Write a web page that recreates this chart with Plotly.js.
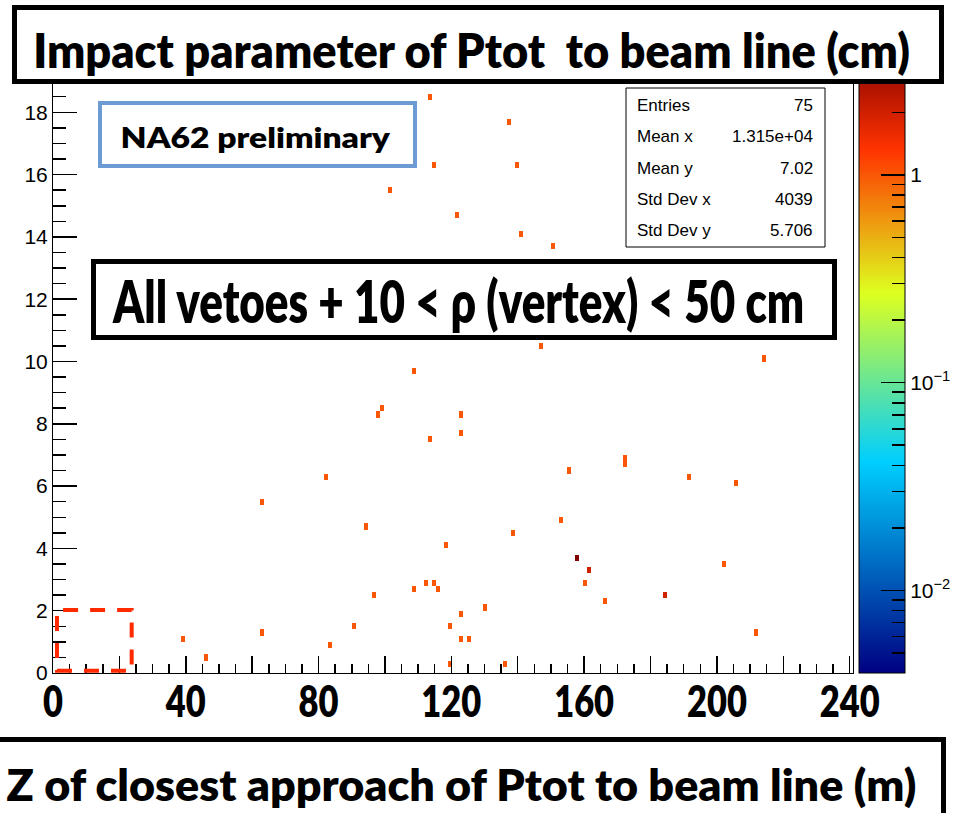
<!DOCTYPE html>
<html>
<head>
<meta charset="utf-8">
<script src="https://cdn.plot.ly/plotly-3.0.1.min.js"></script>
<style>
  html, body { margin: 0; padding: 0; background: #ffffff; }
  #plot { width: 955px; height: 813px; }
</style>
</head>
<body>
<div id="plot"></div>
<script>
// Z of closest approach (m) and impact parameter (cm) of each filled bin, with its bin content
const zPos = [113.0, 137.2, 114.3, 139.5, 101.1, 121.3, 140.5, 150.4, 146.7, 108.2,
              214.2, 98.6, 97.4, 122.5, 122.5, 113.0, 81.8, 155.3, 93.7, 152.8,
              138.4, 117.9, 157.6, 161.0, 159.8, 111.8, 114.3, 108.2, 115.5, 96.2,
              165.9, 129.8, 122.5, 90.1, 119.2, 122.5, 125.0, 82.8, 119.1, 135.9,
              62.6, 62.6, 39.5, 45.7, 172.0, 172.0, 191.4, 205.7, 202.0, 184.0,
              211.8];
const rhoPos = [18.5, 17.7, 16.3, 16.3, 15.5, 14.7, 14.1, 13.7, 10.5, 9.7,
                10.1, 8.5, 8.3, 8.3, 7.7, 7.5, 6.3, 6.5, 4.7, 4.9,
                4.5, 4.1, 3.7, 3.3, 2.9, 2.9, 2.9, 2.7, 2.7, 2.5,
                2.3, 2.1, 1.9, 1.5, 1.5, 1.1, 1.1, 0.9, 0.3, 0.3,
                5.5, 1.3, 1.1, 0.5, 6.7, 6.9, 6.3, 6.1, 3.5, 2.5,
                1.3];
const nEvents = [1, 1, 1, 1, 1, 1, 1, 1, 1, 1,
                 1, 1, 1, 1, 1, 1, 1, 1, 1, 1,
                 1, 1, 4, 2, 1, 1, 1, 1, 1, 1,
                 1, 1, 1, 1, 1, 1, 1, 1, 1, 1,
                 1, 1, 1, 1, 1, 1, 1, 1, 1, 2,
                 1];

// Statistics box
const statNames = ['Entries', 'Mean x', 'Mean y', 'Std Dev x', 'Std Dev y'];
const statValues = ['75', '1.315e+04', '7.02', '4039', '5.706'];

// Axis ticks
const xMajorTicks = [0, 20, 40, 60, 80, 100, 120, 140, 160, 180, 200, 220, 240];
const xTickText = ['0', '', '40', '', '80', '', '120', '', '160', '', '200', '', '240'];
const zTickVals = [0.005, 0.006, 0.007, 0.008, 0.009, 0.01, 0.02, 0.03, 0.04, 0.05, 0.06, 0.07, 0.08, 0.09,
                   0.1, 0.2, 0.3, 0.4, 0.5, 0.6, 0.7, 0.8, 0.9, 1, 2, 3, 4];
const zMajor = [0.01, 0.1, 1];
const zMajorText = ['10<sup>\u22122</sup>', '10<sup>\u22121</sup>', '1'];

// Histogram binning and colour range (log z)
const xBin = 1.2, nX = 200;
const yBin = 0.2, nY = 100;
const zMax = 4, zMin = 0.004;

const xCenters = Array.from({length: nX}, (_, i) => (i + 0.5) * xBin);
const yCenters = Array.from({length: nY}, (_, j) => (j + 0.5) * yBin);
const counts = Array.from({length: nY}, () => new Array(nX).fill(0));
zPos.forEach((zv, k) => {
  const i = Math.floor(zv / xBin);
  const j = Math.floor(rhoPos[k] / yBin);
  counts[j][i] += nEvents[k];
});
const logZ = counts.map(row => row.map(c => (c > 0 ? Math.log10(c) : null)));

// Rainbow palette
const lo = Math.log10(zMin), hi = Math.log10(zMax);
const palette = [
  [0.00, 'rgb(0,0,130)'],
  [0.34, 'rgb(0,207,255)'],
  [0.61, 'rgb(222,255,31)'],
  [0.84, 'rgb(255,51,0)'],
  [1.00, 'rgb(130,0,0)']
];

// Geometry helpers (pixel -> paper)
const W = 955, H = 813;
const mL = 53, mR = 102, mT = 50, mB = 140;
const pw = W - mL - mR, ph = H - mT - mB;
const px = x => (x - mL) / pw;
const py = y => (H - mB - y) / ph;

const slide = 'Lato, "Open Sans", sans-serif';
const heavy = 800;
const helv = '"Liberation Sans", Arial, Helvetica, sans-serif';

const heat = {
  type: 'heatmap',
  x: xCenters,
  y: yCenters,
  z: logZ,
  zmin: lo,
  zmax: hi,
  colorscale: palette,
  hoverongaps: false,
  colorbar: {
    x: 1.0075, xanchor: 'left', xpad: 0,
    y: 0.5, yanchor: 'middle', ypad: 0,
    len: 1, lenmode: 'fraction',
    thickness: 46,
    outlinecolor: '#000000', outlinewidth: 1,
    ticks: 'inside', ticklen: 13, tickwidth: 1.5, tickcolor: '#000000',
    tickmode: 'array',
    tickvals: zTickVals.map(Math.log10),
    ticktext: zTickVals.map(v => {
      const m = zMajor.indexOf(v);
      return m >= 0 ? zMajorText[m] : '';
    }),
    tickfont: {family: helv, size: 21, color: '#000000'}
  }
};

// Longer ticks at the decades of the colour scale
const decadeTicks = {
  type: 'scatter', mode: 'markers',
  x: [-50], y: [-50],
  hoverinfo: 'skip', showlegend: false,
  marker: {
    color: [0], cmin: lo, cmax: hi, opacity: 0,
    colorscale: [[0, 'rgba(0,0,0,0)'], [1, 'rgba(0,0,0,0)']],
    showscale: true,
    colorbar: {
      x: 1.0075, xanchor: 'left', xpad: 0,
      y: 0.5, yanchor: 'middle', ypad: 0,
      len: 1, lenmode: 'fraction',
      thickness: 46, outlinewidth: 0,
      ticks: 'inside', ticklen: 24, tickwidth: 1.5, tickcolor: '#000000',
      tickmode: 'array', tickvals: zMajor.map(Math.log10),
      showticklabels: false
    }
  }
};

// text boxes; fitW = width the bold slide text is condensed to
const fitW = [];
const annotations = [];
function boxAnn(x0, y0, x1, y1, bw, color) {
  annotations.push({
    xref: 'paper', yref: 'paper',
    x: px((x0 + x1) / 2), y: py((y0 + y1) / 2),
    xanchor: 'center', yanchor: 'middle',
    text: ' ', showarrow: false,
    width: (x1 - x0) - 2 * bw, height: (y1 - y0) - 2 * bw,
    borderpad: 0, borderwidth: bw, bordercolor: color, bgcolor: '#ffffff'
  });
  fitW.push(0);
}
function textAnn(text, cx, cy, size, fam, weight, anchor, w) {
  annotations.push({
    xref: 'paper', yref: 'paper',
    x: px(cx), y: py(cy),
    xanchor: anchor || 'center', yanchor: 'middle',
    text: text, showarrow: false,
    font: {family: fam, size: size, color: '#000000', weight: weight || 'normal'}
  });
  fitW.push(w || 0);
}

boxAnn(12, 5, 944, 84, 5, '#000000');
textAnn('Impact parameter of Ptot&nbsp; to beam line (cm)', 471, 50, 47, slide, heavy, 'center', 877);
boxAnn(98, 101, 417, 168, 4, '#6b9bd2');
textAnn('NA62 preliminary', 255, 137, 29, slide, heavy, 'center', 270);
boxAnn(91, 259, 837, 340, 5, '#000000');
textAnn('All vetoes + 10 &lt; \u03c1 (vertex) &lt; 50 cm', 459, 300, 58, slide, heavy, 'center', 692);
boxAnn(-10, 737, 946, 830, 5, '#000000');
textAnn('Z of closest approach of Ptot to beam line (m)', 461, 784, 44, slide, heavy, 'center', 910);
const rowY = [105, 137, 168, 199, 231];
statNames.forEach((s, k) => {
  textAnn(s, 635, rowY[k], 17, helv, 'normal', 'left');
  textAnn(statValues[k], 815, rowY[k], 17, helv, 'normal', 'right');
});

const shapes = [
  // statistics panel
  {type: 'rect', xref: 'paper', yref: 'paper', layer: 'above',
   x0: px(626), x1: px(825), y0: py(247), y1: py(88),
   fillcolor: '#ffffff', line: {color: '#000000', width: 1}},
  // signal region outline
  {type: 'rect', xref: 'x', yref: 'y', layer: 'above',
   x0: 1.2, x1: 23.7, y0: 0.07, y1: 2.02,
   line: {color: '#ff2a00', width: 4, dash: '15px,12px'}}
];

const layout = {
  width: W, height: H,
  margin: {l: mL, r: mR, t: mT, b: mB, pad: 0, autoexpand: false},
  paper_bgcolor: '#ffffff', plot_bgcolor: '#ffffff',
  showlegend: false,
  xaxis: {
    range: [0, 241], showgrid: false, zeroline: false,
    showline: true, linecolor: '#000000', linewidth: 1, mirror: true,
    ticks: 'inside', ticklen: 17, tickwidth: 1.5, tickcolor: '#000000',
    tickmode: 'array', tickvals: xMajorTicks, ticktext: xTickText,
    minor: {tickmode: 'linear', tick0: 0, dtick: 5, ticks: 'inside', ticklen: 9, tickwidth: 1.5, tickcolor: '#000000'},
    tickfont: {family: slide, size: 44, color: '#000000', weight: heavy}
  },
  yaxis: {
    range: [0, 20], showgrid: false, zeroline: false,
    showline: true, linecolor: '#000000', linewidth: 1, mirror: true,
    ticks: 'inside', ticklen: 24, tickwidth: 1.5, tickcolor: '#000000',
    tickmode: 'linear', tick0: 0, dtick: 2,
    minor: {tickmode: 'linear', tick0: 0, dtick: 0.5, ticks: 'inside', ticklen: 13, tickwidth: 1.5, tickcolor: '#000000'},
    tickfont: {family: helv, size: 21, color: '#000000'}
  },
  shapes: shapes,
  annotations: annotations
};

// Condense a text element horizontally about its own centre (optionally nudged up)
function condense(el, sx, dy) {
  const b = el.getBBox();
  const cx = b.x + b.width / 2;
  const old = el.getAttribute('transform') || '';
  el.setAttribute('transform', old + ' translate(' + cx + ',' + (dy || 0) + ') scale(' + sx + ',1) translate(' + (-cx) + ',0)');
}

Plotly.newPlot('plot', [heat, decadeTicks], layout, {staticPlot: true, displayModeBar: false}).then(gd => {
  document.querySelectorAll('g.annotation').forEach(g => {
    const i = +g.getAttribute('data-index');
    const t = g.querySelector('text.annotation-text');
    if (t && fitW[i]) {
      const b = t.getBBox();
      if (b.width > 0) condense(t, fitW[i] / b.width);
    }
  });
  // bold tick numbers condensed to the slide's narrow lettering
  const ticks = Array.from(document.querySelectorAll('g.xtick text')).filter(t => t.textContent.length);
  const ref = ticks.find(t => t.textContent === '120');
  if (ref) {
    const sx = 60 / ref.getBBox().width;
    ticks.forEach(t => condense(t, sx, -10));
  }
});
</script>
</body>
</html>
